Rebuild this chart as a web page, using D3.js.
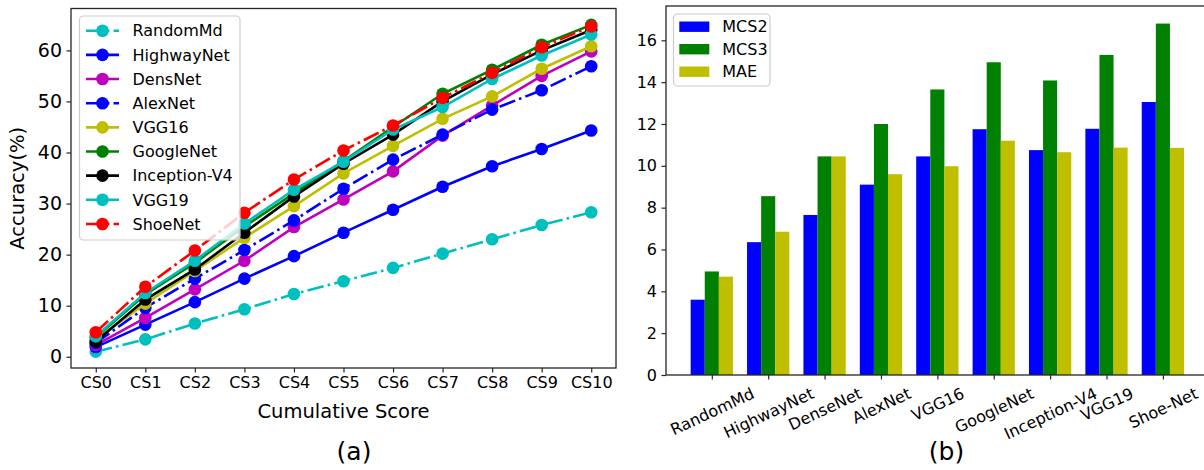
<!DOCTYPE html>
<html>
<head>
<meta charset="utf-8">
<script src="https://cdn.jsdelivr.net/npm/d3@7"></script>
<style>
  html, body { margin: 0; padding: 0; background: #fff; }
  svg { display: block; font-family: "DejaVu Sans", sans-serif; }
</style>
</head>
<body>
<svg id="fig" width="1204" height="470"></svg>
<script>
// ---------- (a) accuracy vs cumulative score ----------
const csLabels = ["CS0","CS1","CS2","CS3","CS4","CS5","CS6","CS7","CS8","CS9","CS10"];
const yTicksA = [0, 10, 20, 30, 40, 50, 60];

const randomMd   = [1.0, 3.4, 6.5, 9.3, 12.3, 14.8, 17.4, 20.2, 23.0, 25.8, 28.3];
const highwayNet = [1.9, 6.3, 10.7, 15.3, 19.7, 24.3, 28.8, 33.3, 37.3, 40.7, 44.3];
const densNet    = [2.3, 7.6, 13.2, 18.8, 25.4, 30.8, 36.3, 43.3, 49.2, 55.0, 59.8];
const alexNet    = [2.7, 9.6, 15.3, 20.9, 26.7, 32.9, 38.6, 43.5, 48.4, 52.2, 56.9];
const vgg16      = [3.4, 10.4, 16.8, 23.3, 29.5, 35.9, 41.3, 46.6, 51.0, 56.4, 60.8];
const googleNet  = [3.8, 12.2, 18.4, 25.5, 32.0, 38.3, 45.0, 51.5, 56.2, 61.1, 65.0];
const inception  = [3.0, 11.2, 17.1, 24.3, 31.4, 37.8, 43.5, 50.0, 55.3, 60.0, 64.0];
const vgg19      = [4.0, 12.5, 18.8, 26.1, 32.7, 38.2, 44.5, 48.9, 54.4, 59.0, 63.1];
const shoeNet    = [4.8, 13.7, 20.8, 28.2, 34.7, 40.4, 45.3, 50.7, 55.6, 60.6, 64.7];

const seriesA = [
  { name: "RandomMd",     values: randomMd,   color: "#00bfbf", dash: true },
  { name: "HighwayNet",   values: highwayNet, color: "#0000ff", dash: false },
  { name: "DensNet",      values: densNet,    color: "#bf00bf", dash: false },
  { name: "AlexNet",      values: alexNet,    color: "#0000ff", dash: true },
  { name: "VGG16",        values: vgg16,      color: "#bfbf00", dash: false },
  { name: "GoogleNet",    values: googleNet,  color: "#008000", dash: false },
  { name: "Inception-V4", values: inception,  color: "#000000", dash: false },
  { name: "VGG19",        values: vgg19,      color: "#00bfbf", dash: false },
  { name: "ShoeNet",      values: shoeNet,    color: "#ff0000", dash: true }
];

// ---------- (b) error metrics per model ----------
const models = ["RandomMd","HighwayNet","DenseNet","AlexNet","VGG16","GoogleNet","Inception-V4","VGG19","Shoe-Net"];
const mcs2 = [3.6, 6.35, 7.65, 9.1, 10.45, 11.75, 10.75, 11.77, 13.05];
const mcs3 = [4.95, 8.55, 10.45, 12.0, 13.65, 14.95, 14.08, 15.3, 16.8];
const mae  = [4.7, 6.85, 10.45, 9.6, 9.98, 11.2, 10.65, 10.87, 10.86];
const yTicksB = [0, 2, 4, 6, 8, 10, 12, 14, 16];
const metricNames = ["MCS2", "MCS3", "MAE"];
const metricColors = ["#0000ff", "#008000", "#bfbf00"];

const svg = d3.select("#fig");
const LW = 2.6;                       // line width
const dashDot = [6.4*LW, 1.6*LW, 1*LW, 1.6*LW].join(",");
const spineColor = "#262626";
const tickLen = 4.5;

// ===== panel (a) =====
const ax = { left: 71, right: 616, top: 8.5, bottom: 368 };
const xA = d3.scaleLinear().domain([-0.5, 10.5]).range([ax.left, ax.right]);
const yA = d3.scaleLinear().domain([-2.2, 68.2]).range([ax.bottom, ax.top]);

const gA = svg.append("g");
svg.append("clipPath").attr("id", "clipA")
  .append("rect").attr("x", ax.left).attr("y", ax.top)
  .attr("width", ax.right - ax.left).attr("height", ax.bottom - ax.top);

const plotA = gA.append("g").attr("clip-path", "url(#clipA)");
const line = d3.line().x((d, i) => xA(i)).y(d => yA(d));

seriesA.forEach(s => {
  const g = plotA.append("g");
  g.append("path")
    .attr("d", line(s.values))
    .attr("fill", "none")
    .attr("stroke", s.color)
    .attr("stroke-width", LW)
    .attr("stroke-dasharray", s.dash ? dashDot : null);
  g.selectAll("circle").data(s.values).join("circle")
    .attr("cx", (d, i) => xA(i))
    .attr("cy", d => yA(d))
    .attr("r", 6.3)
    .attr("fill", s.color);
});

// axes (a)
const xAxisA = d3.axisBottom(xA).tickValues(d3.range(csLabels.length))
  .tickFormat(i => csLabels[i]).tickSize(tickLen).tickPadding(4.5);
const yAxisA = d3.axisLeft(yA).tickValues(yTicksA).tickSize(tickLen).tickPadding(4.5);

const gxA = gA.append("g").attr("transform", `translate(0,${ax.bottom})`).call(xAxisA);
const gyA = gA.append("g").attr("transform", `translate(${ax.left},0)`).call(yAxisA);
[gxA, gyA].forEach(g => {
  g.select(".domain").remove();
  g.selectAll(".tick line").attr("stroke", spineColor).attr("stroke-width", 1.2);
  g.selectAll(".tick text").attr("fill", "#000").style("font-size", "16px")
    .style("font-family", "DejaVu Sans");
});
gyA.selectAll(".tick text").style("font-size", "19px");
gA.append("rect")
  .attr("x", ax.left).attr("y", ax.top)
  .attr("width", ax.right - ax.left).attr("height", ax.bottom - ax.top)
  .attr("fill", "none").attr("stroke", spineColor).attr("stroke-width", 1.3);

gA.append("text").attr("x", (ax.left + ax.right) / 2).attr("y", 418)
  .attr("text-anchor", "middle").style("font-size", "19.5px").text("Cumulative Score");
gA.append("text").attr("transform", `translate(23.5,${(ax.top + ax.bottom) / 2}) rotate(-90)`)
  .attr("text-anchor", "middle").style("font-size", "19.5px").text("Accuracy(%)");
gA.append("text").attr("x", 354).attr("y", 460)
  .attr("text-anchor", "middle").style("font-size", "25px").text("(a)");

// legend (a)
const legA = gA.append("g");
legA.append("rect").attr("x", 79.5).attr("y", 16).attr("width", 160.5).attr("height", 224)
  .attr("rx", 4).attr("fill", "#fff").attr("fill-opacity", 0.8)
  .attr("stroke", "#cccccc").attr("stroke-width", 1.2);
seriesA.forEach((s, i) => {
  const cy = 30.7 + i * 24.16;
  legA.append("line").attr("x1", 86).attr("x2", 119).attr("y1", cy).attr("y2", cy)
    .attr("stroke", s.color).attr("stroke-width", LW)
    .attr("stroke-dasharray", s.dash ? dashDot : null);
  legA.append("circle").attr("cx", 102.5).attr("cy", cy).attr("r", 6.3).attr("fill", s.color);
  legA.append("text").attr("x", 132.5).attr("y", cy).attr("dy", "0.36em")
    .style("font-size", "16px").text(s.name);
});

// ===== panel (b) =====
const bx = { left: 666, right: 1208.7, top: 6, bottom: 375 };
const xB = d3.scaleLinear().domain([-0.8125, models.length - 1 + 0.8125]).range([bx.left, bx.right]);
const yB = d3.scaleLinear().domain([0, 16.8 * 1.05]).range([bx.bottom, bx.top]);
const barW = 0.25;
const gB = svg.append("g");

const barData = [];
models.forEach((m, i) => {
  [mcs2, mcs3, mae].forEach((arr, k) => {
    barData.push({ i, k, v: arr[i] });
  });
});
gB.append("g").selectAll("rect").data(barData).join("rect")
  .attr("x", d => xB(d.i + (d.k - 1) * barW - barW / 2))
  .attr("width", d => xB(barW) - xB(0))
  .attr("y", d => yB(d.v))
  .attr("height", d => yB(0) - yB(d.v))
  .attr("fill", d => metricColors[d.k]);

const xAxisB = d3.axisBottom(xB).tickValues(d3.range(models.length))
  .tickFormat(i => models[i]).tickSize(tickLen).tickPadding(4.5);
const yAxisB = d3.axisLeft(yB).tickValues(yTicksB).tickSize(tickLen).tickPadding(4.5);
const gxB = gB.append("g").attr("transform", `translate(0,${bx.bottom})`).call(xAxisB);
const gyB = gB.append("g").attr("transform", `translate(${bx.left},0)`).call(yAxisB);
[gxB, gyB].forEach(g => {
  g.select(".domain").remove();
  g.selectAll(".tick line").attr("stroke", spineColor).attr("stroke-width", 1.2);
  g.selectAll(".tick text").attr("fill", "#000").style("font-size", "16px")
    .style("font-family", "DejaVu Sans");
});
// rotated category labels, bounding box centred under each tick
const ang = 25 * Math.PI / 180;
gxB.selectAll(".tick text").each(function () {
  const t = d3.select(this);
  const w = this.getComputedTextLength();
  const h = 16 * 1.17;
  const boxH = w * Math.sin(ang) + h * Math.cos(ang);
  const top = tickLen + 4.5;
  t.attr("y", null).attr("dy", null)
    .attr("dominant-baseline", "central")
    .attr("text-anchor", "middle")
    .attr("transform", `translate(0,${top + boxH / 2}) rotate(-25)`);
});
gB.append("rect")
  .attr("x", bx.left).attr("y", bx.top)
  .attr("width", bx.right - bx.left).attr("height", bx.bottom - bx.top)
  .attr("fill", "none").attr("stroke", spineColor).attr("stroke-width", 1.3);

gB.append("text").attr("x", 946.5).attr("y", 460)
  .attr("text-anchor", "middle").style("font-size", "25px").text("(b)");

// legend (b)
const legB = gB.append("g");
legB.append("rect").attr("x", 673.5).attr("y", 14).attr("width", 96.5).attr("height", 72)
  .attr("rx", 4).attr("fill", "#fff").attr("fill-opacity", 0.8)
  .attr("stroke", "#cccccc").attr("stroke-width", 1.2);
metricNames.forEach((n, k) => {
  const cy = 26.7 + k * 22.5;
  legB.append("rect").attr("x", 679.3).attr("y", cy - 5.2).attr("width", 30).attr("height", 10.4)
    .attr("fill", metricColors[k]);
  legB.append("text").attr("x", 722.3).attr("y", cy).attr("dy", "0.36em")
    .style("font-size", "16px").text(n);
});
</script>
</body>
</html>
